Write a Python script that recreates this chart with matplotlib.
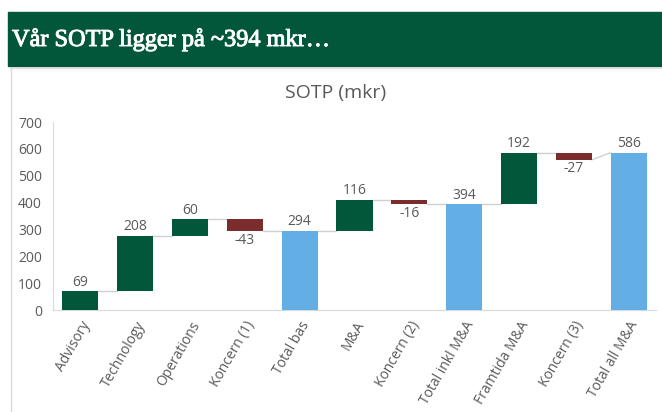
import matplotlib
matplotlib.use("Agg")
import matplotlib.pyplot as plt
from matplotlib.patches import Rectangle
import matplotlib.patheffects as pe
import numpy as np

categories = ["Advisory", "Technology", "Operations", "Koncern (1)", "Total bas",
              "M&A", "Koncern (2)", "Total inkl M&A", "Framtida M&A", "Koncern (3)",
              "Total all M&A"]
values = [69, 208, 60, -43, 294, 116, -16, 394, 192, -27, 586]
is_total = [False, False, False, False, True, False, False, True, False, False, True]
yticks = [0, 100, 200, 300, 400, 500, 600, 700]

GREEN = "#00573A"
RED = "#7B2D2E"
BLUE = "#64AEE6"
TXT = "#595959"

plt.rcParams['font.family'] = ['Open Sans', 'DejaVu Sans']

fig = plt.figure(figsize=(6.62, 4.12), dpi=100)
W, H = 662, 412

# banner
fig.patches.append(Rectangle((8 / W, 1 - 66 / H), 1 - 8 / W, 54 / H,
                             transform=fig.transFigure, color="#02573B", zorder=0))
fig.text(12 / W, 1 - 40 / H, "Vår SOTP ligger på ~394 mkr…", color="white",
         fontsize=17.5, family=["Liberation Serif", "DejaVu Serif"],
         va="center", ha="left",
         path_effects=[pe.withStroke(linewidth=0.7, foreground="white")])
# panel border
fig.add_artist(plt.Line2D([10.5 / W, 10.5 / W], [0, 1 - 68 / H], color="#D9D9D9",
                          lw=1, transform=fig.transFigure))
fig.add_artist(plt.Line2D([10.5 / W, 1], [1 - 68 / H, 1 - 68 / H], color="#D9D9D9",
                          lw=1.2, transform=fig.transFigure))

ax = fig.add_axes([53 / W, 102 / H, (656 - 53) / W, (310 - 122) / H])

x = np.arange(len(categories))
bottoms, tops, ends = [], [], []
cum = 0
for v, t in zip(values, is_total):
    if t:
        b, tp = 0, v
        cum = v
    else:
        b, tp = (cum, cum + v) if v >= 0 else (cum + v, cum)
        cum = cum + v
    bottoms.append(b)
    tops.append(tp)
    ends.append(cum)

colors = [BLUE if t else (GREEN if v >= 0 else RED) for v, t in zip(values, is_total)]
bw = 0.66
ax.bar(x, np.array(tops) - np.array(bottoms), bottom=bottoms, width=bw, color=colors, zorder=3)

# connectors
for i in range(len(values) - 1):
    y0 = ends[i]
    if is_total[i + 1]:
        y1 = values[i + 1]
    elif values[i + 1] >= 0:
        y1 = bottoms[i + 1]
    else:
        y1 = tops[i + 1]
    ax.plot([x[i] + bw / 2, x[i + 1] - bw / 2], [y0, y1], color="#D0D0D0", lw=1, zorder=2)

# labels
for i, v in enumerate(values):
    if v >= 0:
        ax.text(x[i], tops[i] + 6, f"{v}", ha="center", va="bottom", color=TXT, fontsize=10)
    else:
        ax.text(x[i], bottoms[i] - 6, f"{v}", ha="center", va="top", color=TXT, fontsize=10)

ax.set_xlim(-0.5, len(categories) - 0.5)
ax.set_ylim(0, 700)
ax.set_yticks(yticks)
ax.set_yticklabels([str(t) for t in yticks], color=TXT, fontsize=10)
ax.set_xticks(x)
ax.set_xticklabels(categories, rotation=60, ha="right", rotation_mode="anchor",
                   color=TXT, fontsize=10)
ax.tick_params(length=0, pad=8)
ax.tick_params(axis="x", pad=6)
for s in ["top", "right"]:
    ax.spines[s].set_visible(False)
ax.spines["left"].set_color("#D9D9D9")
ax.spines["bottom"].set_color("#D9D9D9")

fig.text(336 / W, 1 - 93 / H, "SOTP (mkr)", ha="center", va="center", color=TXT, fontsize=14)

fig.savefig("out.png", dpi=100)
